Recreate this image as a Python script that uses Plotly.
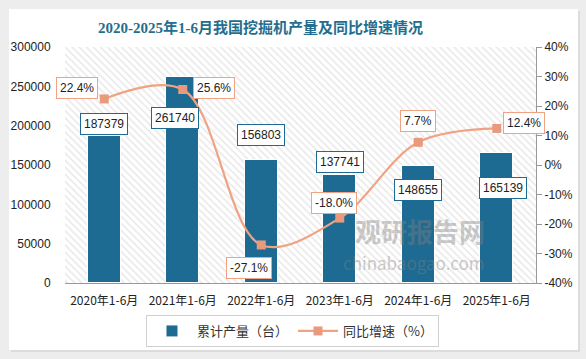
import plotly.graph_objects as go

categories = ["2020年1-6月", "2021年1-6月", "2022年1-6月", "2023年1-6月", "2024年1-6月", "2025年1-6月"]
production = [187379, 261740, 156803, 137741, 148655, 165139]
growth = [22.4, 25.6, -27.1, -18.0, 7.7, 12.4]
left_ticks = [0, 50000, 100000, 150000, 200000, 250000, 300000]
right_ticks = [-40, -30, -20, -10, 0, 10, 20, 30, 40]
right_tick_text = [f"{v}%" for v in right_ticks]

BAR_COLOR = "#1D6B92"
LINE_COLOR = "#F0A283"
MARK_COLOR = "#E99A7C"
FONT = "Liberation Sans, Noto Sans CJK SC"
CJK = "Noto Sans CJK SC"

fig = go.Figure()

# hatched plot background
fig.add_trace(go.Bar(
    x=categories, y=[left_ticks[-1]] * len(categories), width=1,
    marker=dict(color="#d2d2d2", line=dict(width=0),
                pattern=dict(shape="\\", fgcolor="#d2d2d2", bgcolor="white", size=5, solidity=0.3)),
    hoverinfo="skip", showlegend=False))

fig.add_trace(go.Bar(
    x=categories, y=production, name="累计产量（台）", width=0.42,
    marker=dict(color=BAR_COLOR, line=dict(color="white", width=1))))

fig.add_trace(go.Scatter(
    x=categories, y=growth, name="同比增速（%）", yaxis="y2",
    mode="lines+markers", line=dict(color=LINE_COLOR, width=2.2, shape="spline", smoothing=1.0),
    marker=dict(symbol="square", size=9, color=MARK_COLOR)))

bar_shift = [(0, 12), (-8, -41), (0, 25), (0, 13), (0, -24), (6, -35)]
pct_shift = [(-27, 11), (31, 1), (-12, -23), (-6, 15), (0, 21), (27, 5)]

ann = []
for c, v, (dx, dy) in zip(categories, production, bar_shift):
    ann.append(dict(x=c, y=v, xref="x", yref="y", text=str(v), showarrow=False,
                    xshift=dx, yshift=dy, bgcolor="white", bordercolor=BAR_COLOR,
                    borderwidth=1, borderpad=3, font=dict(size=12, color="#222", family=FONT)))
for c, v, (dx, dy) in zip(categories, growth, pct_shift):
    ann.append(dict(x=c, y=v, xref="x", yref="y2", text=f"{v:.1f}%", showarrow=False,
                    xshift=dx, yshift=dy, bgcolor="white", bordercolor=LINE_COLOR,
                    borderwidth=1, borderpad=3, font=dict(size=12, color="#222", family=FONT)))

# title
ann.append(dict(x=(260 - 65) / 471, y=(283 - 17) / 236, xref="paper", yref="paper",
                text="<b>2020-2025年1-6月我国挖掘机产量及同比增速情况</b>", showarrow=False,
                font=dict(size=15, color="#236E8E", family="Liberation Serif, Noto Sans CJK SC")))
# watermark
ann.append(dict(x=(487 - 65) / 471, y=(283 - 251) / 236, xref="paper", yref="paper",
                text="<b>观研报告网</b>", showarrow=False, opacity=0.4,
                font=dict(size=26, color="#808080", family=CJK)))
ann.append(dict(x=(487 - 65) / 471, y=(283 - 277) / 236, xref="paper", yref="paper",
                text="chinabaogao.com", showarrow=False, opacity=0.4,
                font=dict(size=17, color="#808080", family=CJK)))

shapes = [
    dict(type="rect", xref="paper", yref="paper", layer="below",
         x0=(11 - 65) / 471, x1=(580 - 65) / 471, y0=(283 - 352) / 236, y1=(283 - 11) / 236,
         fillcolor="#dcdcdc", line=dict(width=0)),
    dict(type="rect", xref="paper", yref="paper", layer="below",
         x0=(9 - 65) / 471, x1=(578 - 65) / 471, y0=(283 - 350) / 236, y1=(283 - 9) / 236,
         fillcolor="white", line=dict(width=0)),
]

fig.update_layout(
    width=586, height=359,
    margin=dict(l=65, r=50, t=47, b=76),
    paper_bgcolor="#ededed", plot_bgcolor="rgba(0,0,0,0)",
    barmode="overlay", bargap=0,
    font=dict(family=FONT, size=12, color="#222"),
    xaxis=dict(type="category", range=[-0.5, 5.5], showline=True, linecolor="#999", linewidth=1,
               ticks="outside", ticklen=7, tickcolor="rgba(0,0,0,0)",
               tickfont=dict(size=12, color="#222", family=CJK)),
    yaxis=dict(range=[0, 300000], tickvals=left_ticks, tickformat="d", showgrid=False, zeroline=False,
               showline=False, tickfont=dict(size=12, color="#222"),
               ticks="outside", ticklen=11, tickcolor="rgba(0,0,0,0)"),
    yaxis2=dict(overlaying="y", side="right", range=[-40, 40], tickvals=right_ticks,
                ticktext=right_tick_text, showgrid=False, zeroline=False, showline=True,
                linecolor="#999", ticks="outside", ticklen=5, tickcolor="#999",
                tickfont=dict(size=12, color="#222")),
    legend=dict(orientation="h", x=0.483, xanchor="center", y=(283 - 315) / 236, yanchor="top",
                bordercolor="#d0d0d0", borderwidth=1, bgcolor="white",
                font=dict(size=13, color="#333", family=CJK), itemwidth=40, traceorder="normal"),
    annotations=ann, shapes=shapes, showlegend=True,
)

fig.write_html("out.html", config={"displayModeBar": False},
               post_script="document.body.style.margin='0';")
